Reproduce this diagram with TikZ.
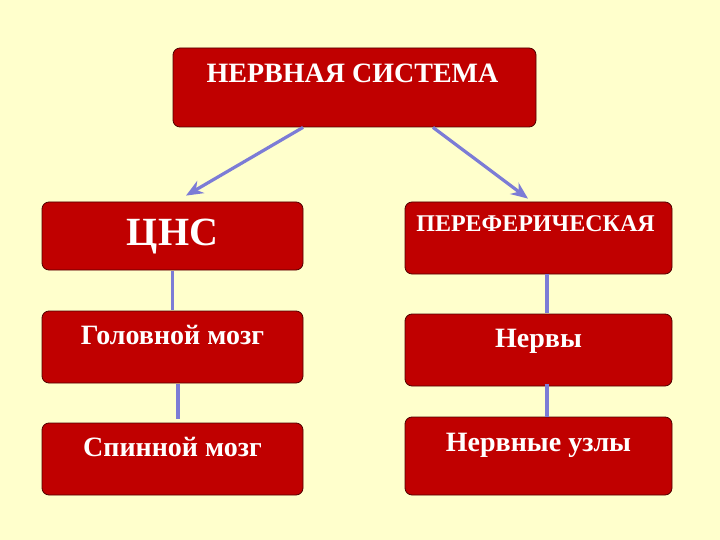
\documentclass[tikz,border=0pt]{standalone}
\usepackage{fontspec}
\setmainfont{Liberation Serif}
\usetikzlibrary{arrows.meta,calc}
\definecolor{bgyellow}{RGB}{255,255,204}
\definecolor{boxred}{RGB}{192,0,0}
\definecolor{boxedge}{RGB}{80,0,0}
\definecolor{linkblue}{RGB}{124,124,214}
\begin{document}
\begin{tikzpicture}[x=1pt, y=-1pt, line join=round, line cap=round, >={Stealth[length=17pt,width=14pt]},
	box/.style={draw=boxedge, fill=boxred, line width=0.8pt, rounded corners=7pt, inner sep=0pt},
	lbl/.style={text=white, anchor=base, inner sep=0pt},
	link/.style={draw=linkblue, line width=3.2pt, line cap=butt}]
	\fill[bgyellow] (0,0) rectangle (720,540);
	\useasboundingbox (0,0) rectangle (720,540);
	% boxes
	\node[box, minimum width=363pt, minimum height=79pt] (ns) at (354.5,87.5) {};
	\node[box, minimum width=261pt, minimum height=68pt] (cns) at (172.5,236) {};
	\node[box, minimum width=267pt, minimum height=72pt] (per) at (538.5,238) {};
	\node[box, minimum width=261pt, minimum height=72pt] (gm) at (172.5,347) {};
	\node[box, minimum width=267pt, minimum height=72pt] (nrv) at (538.5,350) {};
	\node[box, minimum width=261pt, minimum height=72pt] (sm) at (172.5,459) {};
	\node[box, minimum width=267pt, minimum height=78pt] (nu) at (538.5,456) {};
	% texts
	\node[lbl, font=\bfseries\fontsize{28}{28}\selectfont] (nsT) at ($(ns.north)+(-2,35)$) {НЕРВНАЯ СИСТЕМА};
	\node[lbl, font=\bfseries\fontsize{40}{40}\selectfont] (cnsT) at ($(cns.north)+(0,44)$) {ЦНС};
	\node[lbl, font=\bfseries\fontsize{24}{24}\selectfont] (perT) at ($(per.north)+(-3,29.5)$) {ПЕРЕФЕРИЧЕСКАЯ};
	\node[lbl, font=\bfseries\fontsize{28}{28}\selectfont] (gmT) at ($(gm.north)+(0,34)$) {Головной мозг};
	\node[lbl, font=\bfseries\fontsize{28}{28}\selectfont] (nrvT) at ($(nrv.north)+(0,33.5)$) {Нервы};
	\node[lbl, font=\bfseries\fontsize{28}{28}\selectfont] (smT) at ($(sm.north)+(0,33.5)$) {Спинной мозг};
	\node[lbl, font=\bfseries\fontsize{28}{28}\selectfont] (nuT) at ($(nu.north)+(0,34.5)$) {Нервные узлы};
	% arrows
	\draw[link, ->] ($(ns.south)+(-51.5,0)$) -- ($(cns.north)+(13.5,-6)$);
	\draw[link, ->] ($(ns.south)+(78.5,0)$) -- ($(per.north)+(-10.5,-3)$);
	\foreach \a/\b/\dx/\s/\e in {cns/gm/0/1/1, gm/sm/5.5/1/4, per/nrv/8.5/0/1, nrv/nu/8.5/-2/0}
		\draw[link, shorten <=\s pt, shorten >=\e pt] ($(\a.south)+(\dx,0)$) -- ($(\b.north)+(\dx,0)$);
\end{tikzpicture}
\end{document}
